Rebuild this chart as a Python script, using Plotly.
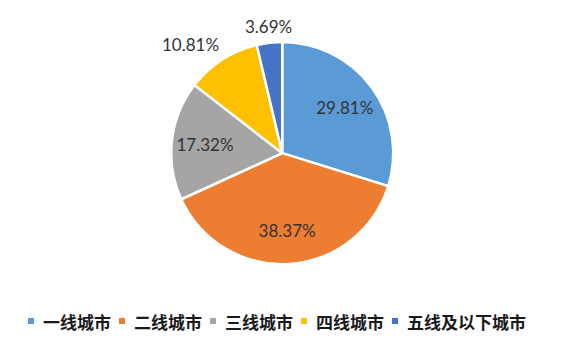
import math
import plotly.graph_objects as go

categories = ["一线城市", "二线城市", "三线城市", "四线城市", "五线及以下城市"]
shares = [29.81, 38.37, 17.32, 10.81, 3.69]
colors = ["#5B9BD5", "#ED7D31", "#A5A5A5", "#FFC000", "#4472C4"]
inside_label = [True, True, True, False, False]

W, H = 565, 348
dom = dict(x=[0.303, 0.696], y=[0.241, 0.879])
label_font = dict(family="Lato, Open Sans, sans-serif", size=17, color="#333333")

fig = go.Figure()
# main pie (slices)
fig.add_trace(go.Pie(
    labels=categories, values=shares, sort=False,
    direction="clockwise", rotation=0,
    marker=dict(colors=colors, line=dict(color="white", width=2.5)),
    textinfo="none",
    domain=dom, showlegend=False, hoverinfo="label+percent",
))
# transparent ring used only to place the inside labels further out
fig.add_trace(go.Pie(
    labels=categories, values=shares, sort=False,
    direction="clockwise", rotation=0, hole=0.4,
    marker=dict(colors=["rgba(0,0,0,0)"] * len(shares), line=dict(width=0)),
    texttemplate="%{value:.2f}%",
    textposition=["inside" if f else "none" for f in inside_label],
    insidetextorientation="horizontal",
    textfont=label_font,
    domain=dom, showlegend=False, hoverinfo="skip",
))

# outside labels for the small slices (Excel-style placement, derived from values)
cx = (dom["x"][0] + dom["x"][1]) / 2 * W
cy = (1 - (dom["y"][0] + dom["y"][1]) / 2) * H
R = min((dom["x"][1] - dom["x"][0]) * W, (dom["y"][1] - dom["y"][0]) * H) / 2
total = sum(shares)
cum = 0.0
for v, f in zip(shares, inside_label):
    mid = (cum + v / 2) / total * 2 * math.pi  # clockwise from 12 o'clock
    cum += v
    if f:
        continue
    rr = R * 1.04
    px = cx + rr * math.sin(mid)
    py = cy - rr * math.cos(mid)
    s = math.sin(mid)
    xanchor = "center" if abs(s) < 0.3 else ("left" if s > 0 else "right")
    yanchor = "bottom" if math.cos(mid) > 0 else "top"
    fig.add_annotation(x=px / W, y=1 - py / H, xref="paper", yref="paper",
                       xanchor=xanchor, yanchor=yanchor, showarrow=False,
                       text=f"{v:.2f}%", font=label_font,
                       borderpad=0)

# manual compact legend
font_size = 17
x = 28
y_px = 321
for cat, col in zip(categories, colors):
    fig.add_shape(type="rect", xref="paper", yref="paper",
                  x0=x / W, x1=(x + 6) / W,
                  y0=1 - (y_px + 3) / H, y1=1 - (y_px - 3) / H,
                  fillcolor=col, line=dict(width=0))
    tx = x + 13
    fig.add_annotation(x=tx / W, y=1 - y_px / H, xref="paper", yref="paper",
                       xanchor="left", yanchor="middle", showarrow=False,
                       text=cat,
                       font=dict(family="Noto Sans CJK SC", size=font_size,
                                 color="#1a1a1a", weight="bold"))
    x = tx + len(cat) * font_size + 10

fig.update_layout(
    width=W, height=H,
    margin=dict(l=0, r=0, t=0, b=0),
    paper_bgcolor="white", plot_bgcolor="white",
    showlegend=False,
)

fig.write_html("out.html")
